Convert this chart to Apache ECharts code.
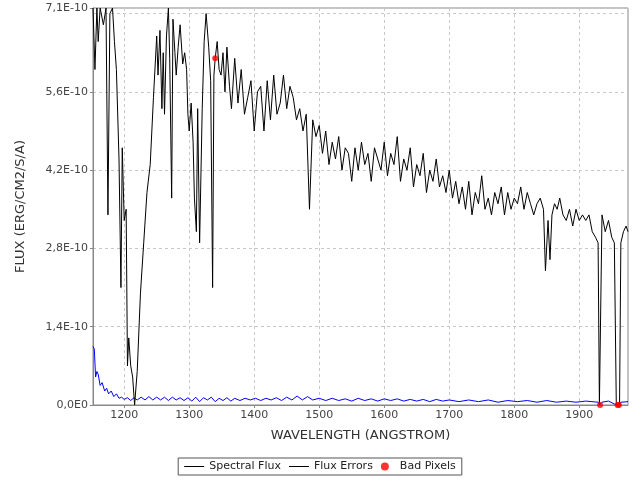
<!DOCTYPE html>
<html><head><meta charset="utf-8">
<script src="https://cdn.jsdelivr.net/npm/echarts@6/dist/echarts.min.js"></script>
<style>html,body{margin:0;padding:0;background:#fff}#c{width:640px;height:480px}</style>
</head><body><div id="c"></div>
<script>
// units of 1e-10 erg/cm2/s/A
const fluxWave = [1152,1155,1158,1160,1163,1168,1172,1175,1178,1182,1185,1188,1192,1195,1197,1200,1203,1205,1207,1210,1213,1216,1220,1225,1230,1235,1240,1245,1250,1252,1255,1258,1260,1262,1265,1268,1270,1273,1275,1278,1280,1283,1286,1290,1293,1296,1298,1300,1303,1306,1308,1311,1313,1316,1320,1323,1326,1330,1333,1336,1338,1340,1343,1346,1349,1352,1355,1358,1362,
1365,1370,1375,1380,1385,1390,1395,1400,1405,1410,1415,1420,1425,1430,1435,1440,1445,1450,1455,1460,1465,1470,1475,1480,1485,1490,1495,1500,
1505,1510,1515,1520,1525,1530,1535,1540,1545,1550,1555,1560,1565,1570,1575,1580,1585,1590,1595,1600,1605,1610,1615,1620,1625,1630,1635,1640,1645,1650,1655,1660,1665,1670,1675,1680,1685,1690,1695,1700,
1705,1710,1715,1720,1725,1730,1735,1740,1745,1750,1755,1760,1765,1770,1775,1780,1785,1790,1795,1800,1805,1810,1815,1820,1825,1830,1835,1840,1845,1848,1852,1855,1858,1862,1866,1870,1875,1880,1885,1890,1895,1900,1905,1910,1915,1920,1925,1929,1931,1933,1935,1940,1945,1950,1954,1957,1962,1964,1968,1972,1975];
const fluxVals = [7.1,6.0,7.1,6.5,7.1,6.8,7.1,3.4,7.0,7.1,6.5,6.0,4.4,2.1,4.6,3.3,3.5,0.7,1.2,0.7,0.5,0.0,0.6,2.0,2.9,3.8,4.3,5.5,6.6,5.9,6.7,5.3,6.3,5.2,6.6,7.1,6.2,3.7,6.9,6.3,5.9,6.4,6.8,6.1,6.3,6.0,5.2,4.9,5.4,4.7,3.7,3.1,5.3,2.9,5.3,6.5,7.0,6.4,5.8,2.1,5.9,6.2,6.5,6.0,5.9,6.3,5.6,6.4,5.7,
5.3,6.2,5.4,6.0,5.2,5.5,5.8,4.9,5.6,5.7,4.9,5.8,5.1,5.9,5.2,5.4,5.9,5.3,5.7,5.5,5.1,5.3,4.9,5.2,3.5,5.1,4.8,5.0,
4.5,4.9,4.3,4.7,4.4,4.8,4.2,4.6,4.5,4.0,4.6,4.2,4.7,4.3,4.5,4.0,4.6,4.4,4.2,4.7,4.1,4.5,4.3,4.8,4.0,4.4,4.2,4.6,3.9,4.3,4.1,4.5,3.8,4.2,4.0,4.4,3.9,4.1,3.8,4.2,
3.7,4.0,3.6,3.9,3.5,4.0,3.4,3.8,3.6,4.1,3.5,3.7,3.4,3.8,3.6,3.9,3.4,3.8,3.5,3.7,3.6,3.9,3.5,3.8,3.6,3.4,3.6,3.7,3.5,2.4,3.3,2.6,3.4,3.6,3.5,3.7,3.4,3.3,3.5,3.2,3.5,3.3,3.4,3.3,3.4,3.1,3.0,2.9,0,0,3.4,3.1,3.3,3.0,2.9,0,0,2.9,3.1,3.2,3.1];
const errWave = [1152,1154,1156,1158,1160,1163,1166,1170,1173,1176,1180,1184,1188,1192,1196,1200,1205,1210,1215,1220,1226,1232,1238,1244,1250,1256,1262,1268,1274,1280,1286,1292,1298,1304,1310,1316,1322,1328,1334,1340,1346,1352,1358,1364,1370,1378,1386,1394,1402,1410,1418,1426,1434,1442,1450,1458,1466,1474,1482,1490,1500,1510,1520,1530,1540,1550,1560,1570,1580,1590,1600,1610,1620,1630,1640,1650,1660,1670,1680,1690,1700,1715,1730,1745,1760,1775,1790,1805,1820,1835,1850,1865,1880,1895,1910,1929,1931,1933,1935,1945,1957,1962,1964,1975];
const errVals = [1.05,1.0,0.5,0.6,0.55,0.35,0.4,0.25,0.3,0.2,0.25,0.15,0.2,0.12,0.14,0.1,0.13,0.08,0.13,0.09,0.14,0.09,0.15,0.09,0.14,0.09,0.14,0.08,0.14,0.09,0.13,0.08,0.13,0.07,0.14,0.06,0.13,0.09,0.14,0.06,0.12,0.08,0.13,0.07,0.12,0.08,0.12,0.09,0.12,0.08,0.12,0.09,0.13,0.08,0.14,0.09,0.16,0.09,0.15,0.09,0.12,0.08,0.12,0.08,0.11,0.07,0.12,0.08,0.11,0.07,0.11,0.08,0.11,0.07,0.1,0.07,0.1,0.06,0.1,0.07,0.09,0.06,0.09,0.06,0.09,0.05,0.08,0.06,0.08,0.05,0.08,0.05,0.07,0.05,0.07,0.05,0,0,0.05,0.07,0,0,0.05,0.06];
const badWave = [1340,1932,1959,1961];
const badVals = [6.2,0,0,0];
const xTicks = [1200,1300,1400,1500,1600,1700,1800,1900];

const zip=(a,b)=>a.map((x,i)=>[x,b[i]]);
const fmt=v=>Math.abs(v)<1e-9?'0,0E0':v.toFixed(1).replace('.',',')+'E-10';
const F='DejaVu Sans';
const chart=echarts.init(document.getElementById('c'));
chart.setOption({
  animation:false,
  grid:{left:93,right:12,top:8,bottom:75,show:true,borderColor:'#888',borderWidth:1},
  legend:{bottom:5,left:'center',itemGap:8,itemWidth:20,itemHeight:8,borderColor:'#555',borderWidth:1,padding:[3,6],borderRadius:0,
    textStyle:{fontFamily:F,fontSize:11,color:'#222'},
    data:[{name:'Spectral Flux',icon:'path://M0,5L20,5L20,6L0,6Z',itemStyle:{color:'#000'}},
          {name:'Flux Errors',icon:'path://M0,5L20,5L20,6L0,6Z',itemStyle:{color:'#000'}},
          {name:'Bad Pixels',icon:'circle',itemStyle:{color:'#f00'}}]},
  xAxis:{type:'value',min:1152,max:1975,
    name:'WAVELENGTH (ANGSTROM)',nameLocation:'middle',nameGap:24,nameTextStyle:{fontFamily:F,fontSize:13,color:'#333'},
    axisLine:{lineStyle:{color:'#888'}},axisTick:{lineStyle:{color:'#888'},length:3,customValues:xTicks},
    axisLabel:{fontFamily:F,fontSize:11,color:'#444',margin:5,customValues:xTicks,formatter:v=>String(v)},
    splitLine:{lineStyle:{color:'#c8c8c8',type:[3,3]}}},
  yAxis:{type:'value',min:0,max:7.1,interval:1.4,
    name:'FLUX (ERG/CM2/S/A)',nameLocation:'middle',nameGap:66,nameTextStyle:{fontFamily:F,fontSize:13,color:'#333'},
    axisLine:{show:true,lineStyle:{color:'#888'}},axisTick:{show:true,lineStyle:{color:'#888'},length:3},
    axisLabel:{fontFamily:F,fontSize:11,color:'#444',formatter:fmt,showMaxLabel:true,margin:5},
    splitLine:{lineStyle:{color:'#c8c8c8',type:[3,3]}}},
  series:[
    {name:'Spectral Flux',type:'line',data:zip(fluxWave,fluxVals),showSymbol:false,lineStyle:{color:'#000',width:1},itemStyle:{color:'#000'},z:3},
    {name:'Flux Errors',type:'line',data:zip(errWave,errVals),showSymbol:false,lineStyle:{color:'#00f',width:1},itemStyle:{color:'#000'},z:2},
    {name:'Bad Pixels',type:'scatter',data:zip(badWave,badVals),symbolSize:6,itemStyle:{color:'#f00'},z:4}
  ]
});
</script></body></html>
